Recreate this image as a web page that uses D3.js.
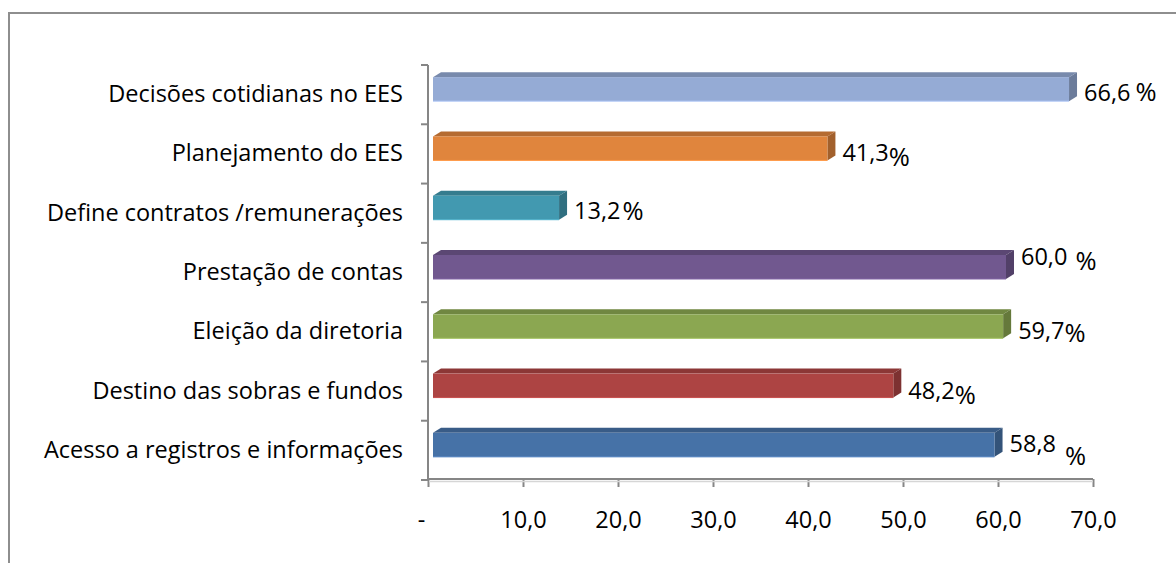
<!DOCTYPE html>
<html>
<head>
<meta charset="utf-8">
<script src="https://cdn.jsdelivr.net/npm/d3@7"></script>
<style>
  body { margin: 0; background: #fff; }
  text { font-family: "Open Sans", sans-serif; fill: #000; }
</style>
</head>
<body>
<svg width="1176" height="563"></svg>
<script>
// data, top to bottom as in the chart
const categories = [
  "Decisões cotidianas no EES",
  "Planejamento do EES",
  "Define contratos /remunerações",
  "Prestação de contas",
  "Eleição da diretoria",
  "Destino das sobras e fundos",
  "Acesso a registros e informações"
];
const values = [66.6, 41.3, 13.2, 60.0, 59.7, 48.2, 58.8];
const valueLabels = ["66,6", "41,3", "13,2", "60,0", "59,7", "48,2", "58,8"];
const tickValues = [0, 10, 20, 30, 40, 50, 60, 70];
const tickLabels = ["-", "10,0", "20,0", "30,0", "40,0", "50,0", "60,0", "70,0"];
const colors = ["#95abd5", "#e0853d", "#4299b0", "#71588f", "#8ba751", "#ad4443", "#4672a7"];

// label nudges (the % signs sit a bit off in the original)
const labelDy = [3, 4, 3, -11, 4, 5, -1];
const pctGap = [5, 0, 2, 8, 0, 0, 9];
const pctDy = [0, 5, 1, 5, 3, 5, 13];

const FS = 23.5;
const svg = d3.select("svg");

// outer frame
svg.append("rect")
  .attr("x", 9).attr("y", 13)
  .attr("width", 1180).attr("height", 600)
  .attr("fill", "none").attr("stroke", "#8e8e8e").attr("stroke-width", 2);

const x = d3.scaleLinear().domain([0, 70]).range([428, 1093]);
const xFront = d3.scaleLinear().domain([0, 70]).range([433, 1101.5]);
const y = d3.scaleBand().domain(categories).range([65, 480]);

const depthX = 8, depthY = 5, barH = 24;

const g = svg.append("g");

const bars = g.selectAll("g.bar").data(values).enter().append("g").attr("class", "bar");

bars.each(function (v, i) {
  const sel = d3.select(this);
  const c = d3.color(colors[i]);
  const x0 = xFront(0), x1 = xFront(v);
  const yc = y(categories[i]) + y.bandwidth() / 2 - 5.5;
  const y0 = yc - barH / 2, y1 = yc + barH / 2;
  // top face
  sel.append("path")
    .attr("d", `M${x0},${y0}L${x0 + depthX},${y0 - depthY}L${x1 + depthX},${y0 - depthY}L${x1},${y0}Z`)
    .attr("fill", c.darker(0.6));
  // side face
  sel.append("path")
    .attr("d", `M${x1},${y0}L${x1 + depthX},${y0 - depthY}L${x1 + depthX},${y1 - depthY}L${x1},${y1}Z`)
    .attr("fill", c.darker(0.9));
  // front face
  sel.append("rect")
    .attr("x", x0).attr("y", y0)
    .attr("width", x1 - x0).attr("height", barH)
    .attr("fill", c);
  sel.append("line")
    .attr("x1", x0).attr("x2", x1).attr("y1", y1).attr("y2", y1)
    .attr("stroke", c.brighter(0.4)).attr("stroke-width", 1);

  // value labels
  const lx = x1 + depthX + 7;
  const ly = yc + labelDy[i] + 8.5;
  const num = sel.append("text")
    .attr("x", lx).attr("y", ly)
    .attr("font-size", FS)
    .text(valueLabels[i]);
  const w = num.node().getComputedTextLength();
  sel.append("text")
    .attr("x", lx + w + pctGap[i]).attr("y", ly + pctDy[i])
    .attr("font-size", FS + 2)
    .text("%");
});

// vertical axis
const yAxis = g.append("g").attr("transform", "translate(428,0)")
  .call(d3.axisLeft(y).tickSize(0).tickPadding(25));
yAxis.select(".domain").remove();
yAxis.selectAll("text").attr("font-size", FS).attr("fill", "#000");
g.append("line")
  .attr("x1", 428).attr("x2", 428).attr("y1", 65).attr("y2", 480)
  .attr("stroke", "#868686").attr("stroke-width", 2);
// category boundary ticks
const bounds = categories.map(c => y(c)).concat([480]);
g.selectAll("line.ytick").data(bounds).enter().append("line")
  .attr("class", "ytick")
  .attr("x1", 421).attr("x2", 428)
  .attr("y1", d => d).attr("y2", d => d)
  .attr("stroke", "#868686").attr("stroke-width", 2);

// horizontal axis
const xAxis = g.append("g").attr("transform", "translate(0,479)")
  .call(d3.axisBottom(x).tickValues(tickValues).tickSize(8).tickPadding(24)
    .tickFormat((d, i) => tickLabels[i]));
xAxis.select(".domain").attr("stroke", "#868686").attr("stroke-width", 2)
  .attr("d", "M428,0H1093");
xAxis.selectAll(".tick line").attr("stroke", "#868686").attr("stroke-width", 2);
xAxis.selectAll("text").attr("font-size", FS).attr("fill", "#000");
xAxis.selectAll(".tick").filter(d => d === 0).select("text").attr("dx", -7);
g.append("line")
  .attr("x1", 429).attr("x2", 1093).attr("y1", 481.5).attr("y2", 481.5)
  .attr("stroke", "#d6d6d6").attr("stroke-width", 1.5);
</script>
</body>
</html>
